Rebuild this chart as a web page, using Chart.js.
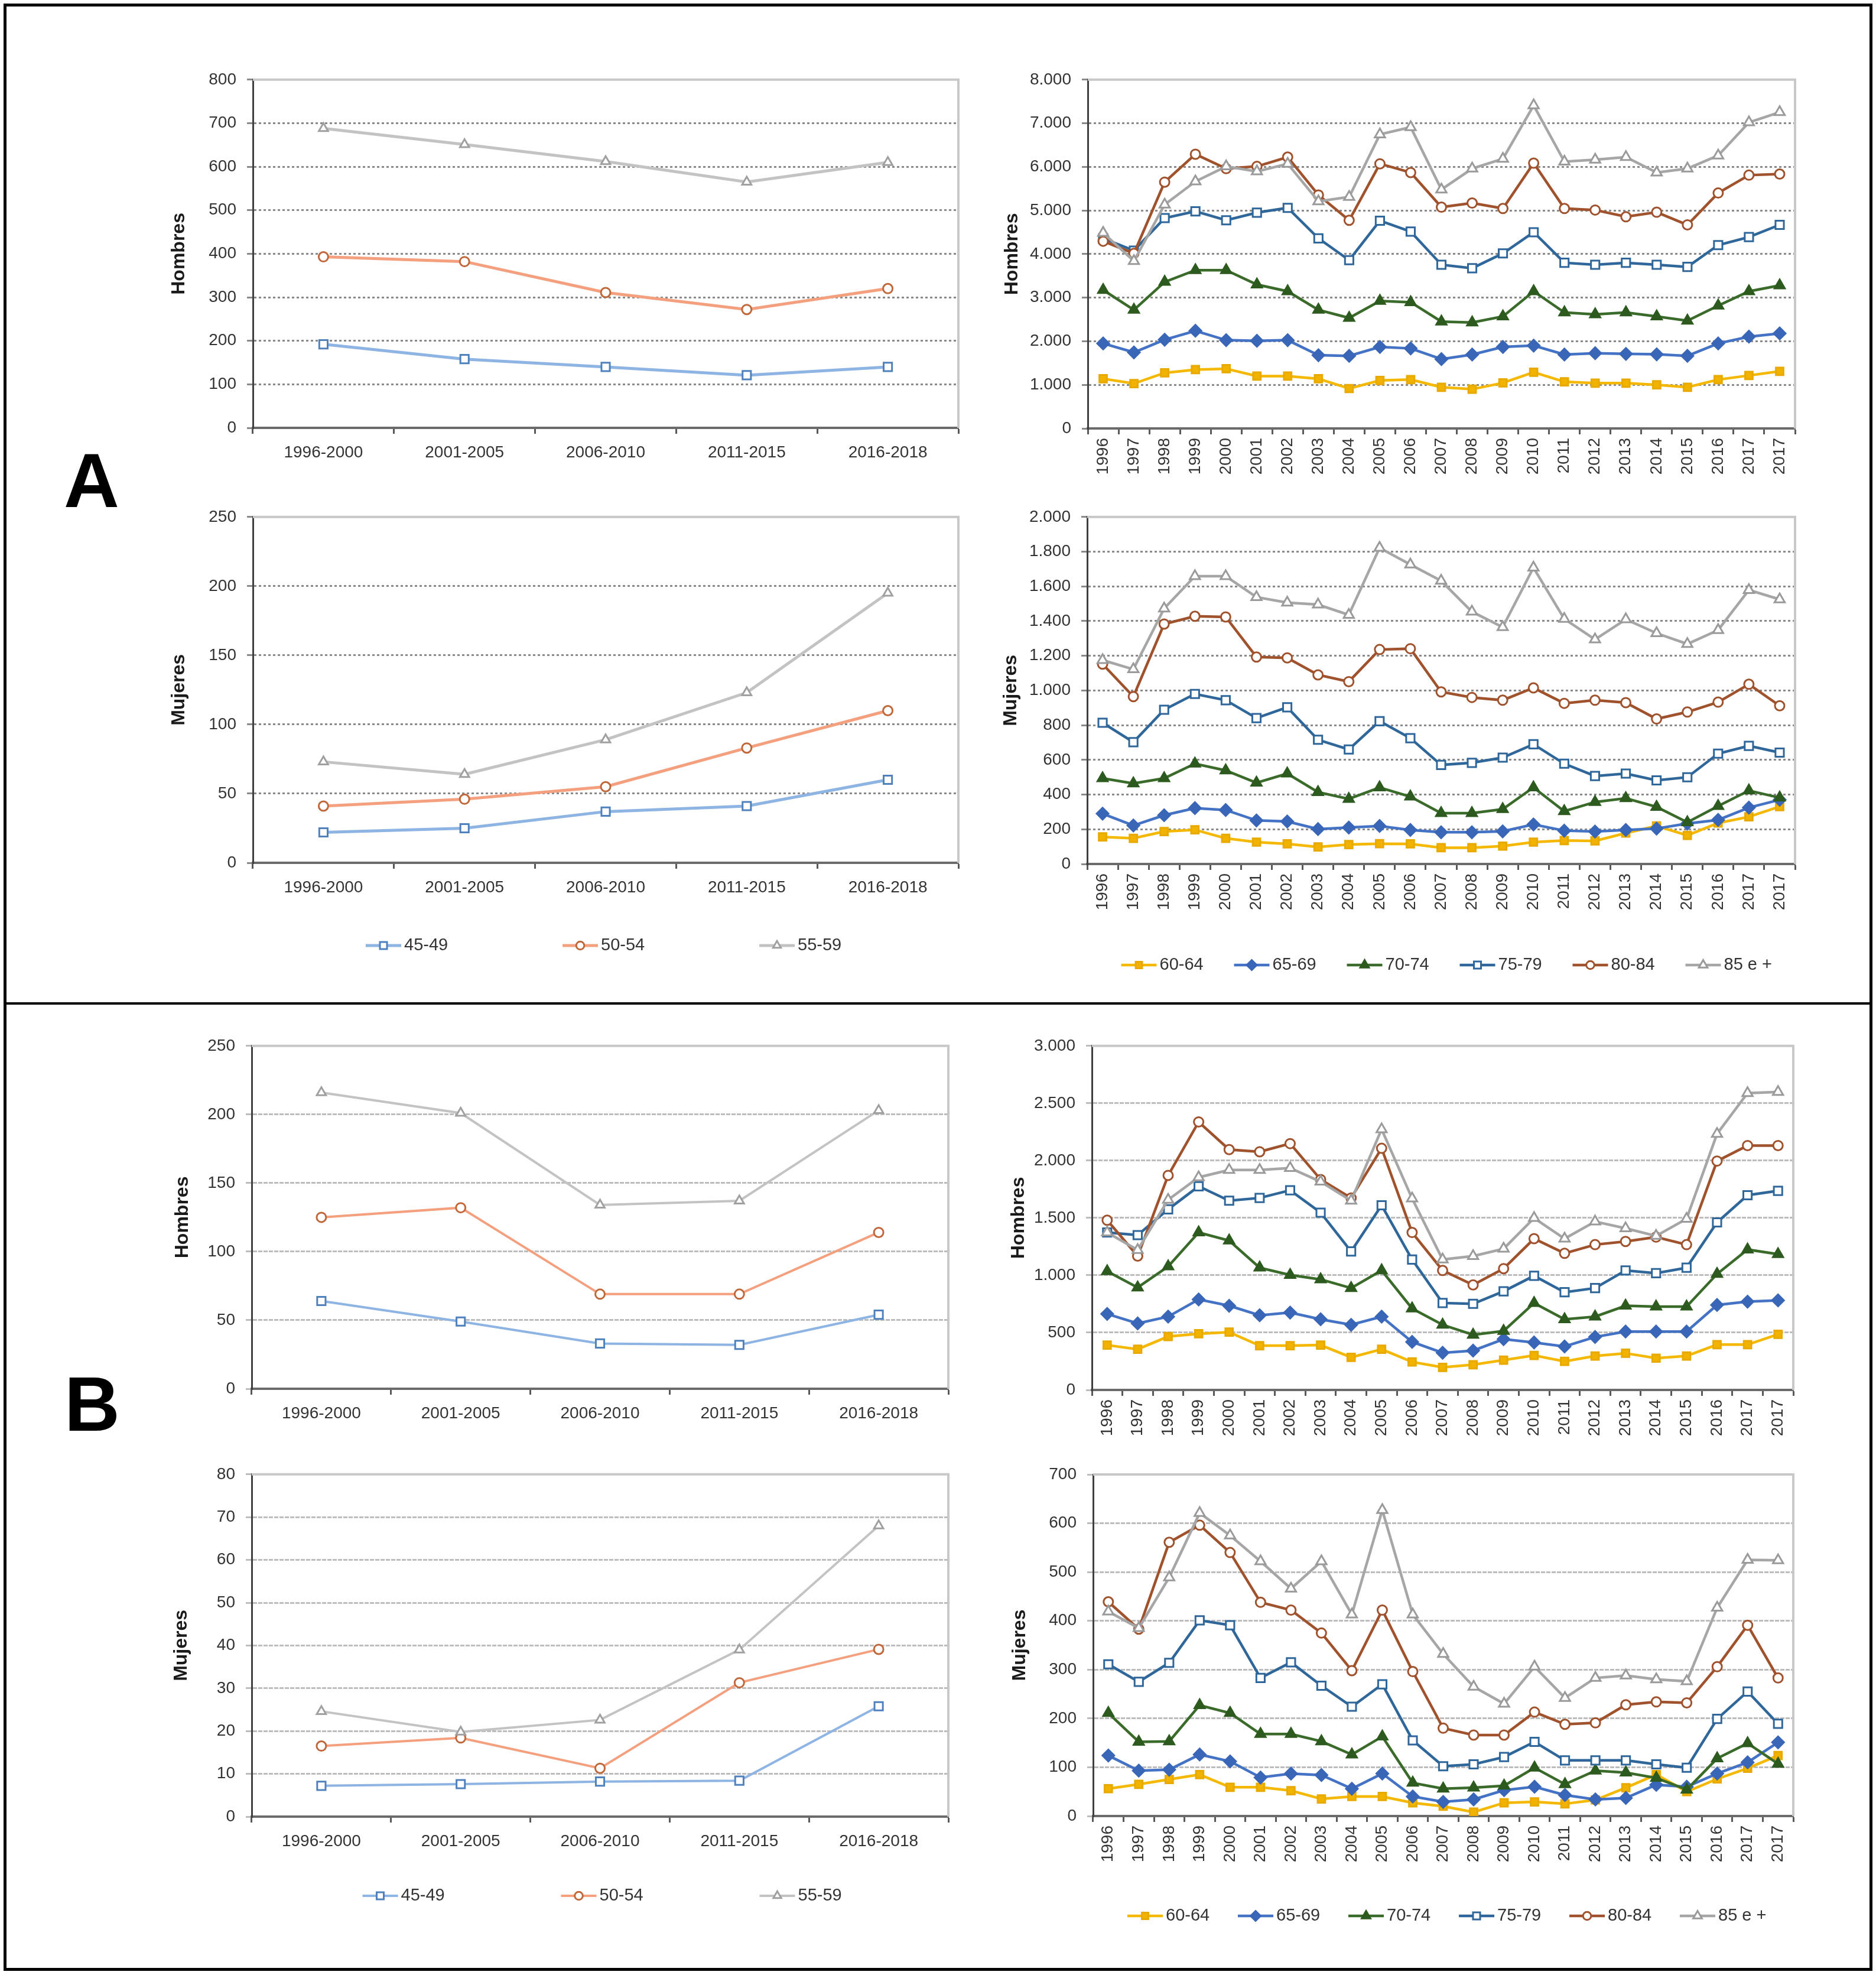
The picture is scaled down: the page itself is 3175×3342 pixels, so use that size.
<!DOCTYPE html>
<html lang="es">
<head>
<meta charset="utf-8">
<title>Hombres / Mujeres por grupos de edad</title>
<script src="https://cdn.jsdelivr.net/npm/chart.js@4.4.1/dist/chart.umd.min.js"></script>
<style>
  html, body { margin: 0; padding: 0; background: #fff; }
  body { width: 3175px; height: 3342px; position: relative; overflow: hidden;
         font-family: 'Liberation Sans', Arial, sans-serif; }
  .frame { position: absolute; left: 6px; top: 6px; width: 3163px; height: 3329px;
           border: 5px solid #000; box-sizing: border-box; }
  .divider { position: absolute; left: 6px; top: 1696px; width: 3163px; height: 4px; background: #000; }
  .panel-letter { position: absolute; font-weight: bold; font-size: 130px; line-height: 1;
                  transform: translate(-50%, -50%); color: #000; }
  .chart-box { position: absolute; }
</style>
</head>
<body>
<div class="frame"></div>
<div class="divider"></div>
<div class="panel-letter" style="left:155px;top:813px">A</div>
<div class="panel-letter" style="left:156px;top:2376px">B</div>

<script>
// ------------------------------------------------------------------
// Data
// ------------------------------------------------------------------
var periodos = ['1996-2000', '2001-2005', '2006-2010', '2011-2015', '2016-2018'];
var anos = ['1996', '1997', '1998', '1999', '2000', '2001', '2002', '2003', '2004', '2005', '2006',
            '2007', '2008', '2009', '2010', '2011', '2012', '2013', '2014', '2015', '2016', '2017', '2017'];
var gruposJovenes = ['45-49', '50-54', '55-59'];
var gruposMayores = ['60-64', '65-69', '70-74', '75-79', '80-84', '85 e +'];

// A - Hombres, 45-59
var aHom4549 = [192, 158, 140, 121, 140];
var aHom5054 = [393, 382, 311, 272, 320];
var aHom5559 = [688, 651, 612, 565, 610];
// A - Mujeres, 45-59
var aMuj4549 = [22, 25, 37, 41, 60];
var aMuj5054 = [41, 46, 55, 83, 110];
var aMuj5559 = [73, 64, 89, 123, 195];

// A - Hombres, 60+
var aHom6064 = [1140, 1030, 1275, 1350, 1370, 1200, 1200, 1140, 915, 1100, 1120, 945, 900, 1045, 1290, 1070, 1040, 1040, 1000, 945, 1120, 1215, 1310];
var aHom6569 = [1950, 1745, 2035, 2240, 2025, 2010, 2025, 1680, 1665, 1870, 1835, 1590, 1695, 1870, 1900, 1695, 1725, 1710, 1700, 1665, 1950, 2105, 2180];
var aHom7074 = [3175, 2720, 3360, 3630, 3630, 3300, 3145, 2720, 2535, 2925, 2895, 2450, 2430, 2570, 3145, 2660, 2615, 2660, 2570, 2470, 2815, 3145, 3280];
var aHom7579 = [4360, 4080, 4825, 4980, 4775, 4950, 5060, 4360, 3860, 4765, 4515, 3755, 3675, 4015, 4500, 3800, 3755, 3800, 3755, 3705, 4205, 4390, 4670];
var aHom8084 = [4295, 4015, 5650, 6290, 5960, 6010, 6225, 5355, 4775, 6070, 5870, 5075, 5170, 5045, 6085, 5045, 5010, 4855, 4960, 4670, 5400, 5810, 5835];
var aHom85 = [4485, 3840, 5135, 5665, 6010, 5895, 6070, 5210, 5310, 6745, 6910, 5480, 5960, 6185, 7410, 6120, 6165, 6225, 5870, 5960, 6260, 7020, 7255];
// A - Mujeres, 60+
var aMuj6064 = [156, 148, 187, 197, 148, 126, 116, 98, 112, 117, 116, 94, 94, 103, 126, 135, 133, 178, 219, 165, 236, 272, 331];
var aMuj6569 = [290, 222, 281, 322, 311, 251, 245, 201, 210, 219, 196, 183, 183, 188, 228, 192, 187, 196, 204, 233, 254, 325, 370];
var aMuj7074 = [494, 464, 494, 578, 539, 468, 521, 414, 375, 441, 388, 293, 293, 316, 441, 304, 357, 379, 329, 240, 334, 423, 382];
var aMuj7579 = [814, 702, 889, 980, 944, 841, 903, 716, 660, 823, 725, 571, 583, 613, 690, 578, 507, 521, 482, 500, 636, 681, 642];
var aMuj8084 = [1152, 965, 1383, 1428, 1424, 1193, 1188, 1090, 1051, 1236, 1241, 992, 960, 944, 1015, 926, 944, 930, 836, 876, 933, 1036, 912];
var aMuj85 = [1175, 1122, 1472, 1659, 1659, 1538, 1506, 1495, 1436, 1822, 1726, 1632, 1454, 1365, 1708, 1413, 1294, 1410, 1330, 1268, 1348, 1579, 1525];

// B - Hombres, 45-59
var bHom4549 = [64, 49, 33, 32, 54];
var bHom5054 = [125, 132, 69, 69, 114];
var bHom5559 = [216, 201, 134, 137, 203];
// B - Mujeres, 45-59
var bMuj4549 = [7.2, 7.6, 8.2, 8.4, 25.8];
var bMuj5054 = [16.5, 18.4, 11.3, 31.3, 39.1];
var bMuj5559 = [24.6, 19.8, 22.6, 39, 68];

// B - Hombres, 60+
var bHom6064 = [391, 355, 466, 490, 504, 386, 386, 391, 284, 355, 244, 197, 220, 260, 301, 249, 296, 320, 277, 296, 395, 395, 485];
var bHom6569 = [663, 580, 639, 789, 734, 651, 675, 616, 568, 639, 419, 324, 343, 443, 414, 379, 462, 509, 509, 509, 741, 770, 781];
var bHom7074 = [1035, 893, 1077, 1373, 1302, 1066, 1002, 964, 888, 1042, 710, 568, 481, 514, 758, 616, 639, 734, 727, 727, 1011, 1224, 1184];
var bHom7579 = [1373, 1350, 1575, 1776, 1650, 1674, 1741, 1546, 1208, 1610, 1137, 758, 751, 860, 995, 852, 888, 1042, 1018, 1066, 1461, 1698, 1736];
var bHom8084 = [1480, 1167, 1871, 2337, 2096, 2077, 2148, 1835, 1674, 2107, 1373, 1042, 916, 1058, 1319, 1191, 1267, 1295, 1333, 1267, 1996, 2131, 2131];
var bHom85 = [1373, 1220, 1658, 1854, 1918, 1918, 1935, 1816, 1650, 2273, 1669, 1137, 1167, 1231, 1499, 1319, 1468, 1409, 1343, 1492, 2233, 2588, 2598];
// B - Mujeres, 60+
var bMuj6064 = [56, 65, 75, 85, 59, 59, 52, 35, 40, 40, 27, 20, 8, 27, 29, 25, 33, 58, 85, 50, 76, 98, 124];
var bMuj6569 = [124, 93, 95, 126, 112, 79, 87, 84, 56, 87, 40, 29, 34, 53, 60, 43, 34, 37, 64, 60, 87, 110, 151];
var bMuj7074 = [211, 152, 153, 227, 211, 168, 168, 153, 126, 163, 68, 56, 58, 62, 99, 65, 93, 89, 78, 54, 118, 149, 107];
var bMuj7579 = [311, 275, 314, 401, 391, 283, 315, 267, 224, 270, 155, 102, 106, 121, 152, 114, 114, 114, 106, 99, 199, 255, 189];
var bMuj8084 = [439, 383, 561, 596, 540, 438, 422, 375, 298, 422, 296, 180, 166, 166, 213, 188, 191, 228, 234, 232, 306, 391, 283];
var bMuj85 = [419, 385, 489, 621, 575, 522, 466, 522, 413, 627, 413, 332, 265, 230, 306, 242, 283, 288, 280, 276, 427, 525, 524];

// y-axis ranges (max, step) per panel
var ejeAHomJ = [800, 100],  ejeAMujJ = [250, 50],  ejeAHomM = [8000, 1000], ejeAMujM = [2000, 200];
var ejeBHomJ = [250, 50],   ejeBMujJ = [80, 10],   ejeBHomM = [3000, 500],  ejeBMujM = [700, 100];

(function () {
    'use strict';

    var FONT = "'Liberation Sans', Arial, sans-serif";
    Chart.defaults.font.family = FONT;

    var youngStyles = [
        { line: '#8db4e2', mark: '#4f81bd', fill: '#ffffff', style: 'rect', r: 10 },
        { line: '#f4a07e', mark: '#c0683a', fill: '#ffffff', style: 'circle', r: 8 },
        { line: '#c3c3c3', mark: '#a0a0a0', fill: '#ffffff', style: 'triangle', r: 9 }
    ];
    var oldStyles = [
        { line: '#f5b800', mark: '#e8a900', fill: '#f2b200', style: 'rect', r: 9 },
        { line: '#4472c4', mark: '#3a66b8', fill: '#3a66b8', style: 'rectRot', r: 10 },
        { line: '#3b6b2a', mark: '#2d5a1e', fill: '#2d5a1e', style: 'triangle', r: 10 },
        { line: '#30679a', mark: '#30679a', fill: '#ffffff', style: 'rect', r: 10 },
        { line: '#a0522d', mark: '#a0522d', fill: '#ffffff', style: 'circle', r: 8 },
        { line: '#a6a6a6', mark: '#9a9a9a', fill: '#ffffff', style: 'triangle', r: 10 }
    ];

    function fmtMiles(v) { return String(v).replace(/\B(?=(\d{3})+(?!\d))/g, '.'); }

    // light grey top + right edge of the plot area
    var plotFrame = {
        id: 'plotFrame',
        beforeDatasetsDraw: function (chart, args, opts) {
            var a = chart.chartArea, ctx = chart.ctx;
            ctx.save();
            ctx.strokeStyle = opts.color;
            ctx.lineWidth = opts.width;
            ctx.beginPath();
            ctx.moveTo(a.left, a.top);
            ctx.lineTo(a.right, a.top);
            ctx.lineTo(a.right, a.bottom);
            ctx.stroke();
            ctx.restore();
        }
    };

    // Excel-like legend: short line with the marker in the middle, then the text
    var lineLegend = {
        id: 'lineLegend',
        afterDraw: function (chart, args, opts) {
            if (!opts.show) return;
            var ctx = chart.ctx, a = chart.chartArea;
            var sets = chart.data.datasets, n = sets.length;
            var mid = (a.left + a.right) / 2 + opts.shift;
            var y = a.bottom + opts.offsetY;
            ctx.save();
            ctx.font = opts.fontSize + 'px ' + FONT;
            ctx.textBaseline = 'middle';
            ctx.textAlign = 'left';
            sets.forEach(function (ds, i) {
                var mx = mid + (i - (n - 1) / 2) * opts.spacing;
                ctx.strokeStyle = ds.borderColor;
                ctx.lineWidth = ds.borderWidth;
                ctx.beginPath();
                ctx.moveTo(mx - opts.half, y);
                ctx.lineTo(mx + opts.half, y);
                ctx.stroke();
                ctx.fillStyle = ds.pointBackgroundColor;
                ctx.strokeStyle = ds.pointBorderColor;
                ctx.lineWidth = ds.pointBorderWidth;
                Chart.helpers.drawPoint(ctx, { pointStyle: ds.pointStyle, radius: ds.pointRadius * 0.85,
                    borderWidth: ds.pointBorderWidth, rotation: 0 }, mx, y);
                ctx.fillStyle = opts.color;
                ctx.fillText(ds.label, mx + opts.half + 5, y);
            });
            ctx.restore();
        }
    };

    function buildChart(spec) {
        var box = spec.box, plot = spec.plot;
        var div = document.createElement('div');
        div.className = 'chart-box';
        div.style.left = box.x + 'px';
        div.style.top = box.y + 'px';
        div.style.width = box.w + 'px';
        div.style.height = box.h + 'px';
        var canvas = document.createElement('canvas');
        div.appendChild(canvas);
        document.body.appendChild(div);

        var n = spec.series.length;
        var datasets = spec.series.map(function (data, i) {
            var st = spec.styles[i];
            return {
                label: spec.names[i],
                data: data,
                borderColor: st.line,
                borderWidth: spec.lineWidth,
                pointStyle: st.style,
                pointRadius: st.r,
                pointBorderWidth: 3,
                pointBorderColor: st.mark,
                pointBackgroundColor: st.fill,
                tension: 0,
                order: n - i          // later series on top, like Excel
            };
        });

        var xh = spec.xh;
        var padBottom = box.y + box.h - plot.b - xh;

        return new Chart(canvas, {
            type: 'line',
            data: { labels: spec.labels, datasets: datasets },
            plugins: [plotFrame, lineLegend],
            options: {
                responsive: true,
                maintainAspectRatio: false,
                animation: false,
                events: [],
                layout: { padding: { left: 0, top: plot.t - box.y, right: box.x + box.w - plot.r, bottom: padBottom } },
                plugins: {
                    legend: { display: false },
                    tooltip: { enabled: false },
                    plotFrame: { color: '#c8c8c8', width: 4 },
                    lineLegend: spec.legend || { show: false }
                },
                scales: {
                    x: {
                        offset: true,
                        afterFit: function (s) { s.height = xh; },
                        grid: { display: true, offset: true, drawOnChartArea: false, drawTicks: true,
                                tickLength: 10, tickColor: '#595959', tickWidth: 3 },
                        border: { display: true, color: '#6b6b6b', width: 4 },
                        ticks: {
                            autoSkip: false,
                            minRotation: spec.rotate ? 90 : 0,
                            maxRotation: spec.rotate ? 90 : 0,
                            padding: spec.rotate ? 6 : 15,
                            color: '#333',
                            font: { size: 28 }
                        }
                    },
                    y: {
                        min: 0,
                        max: spec.axis[0],
                        afterFit: function (s) { s.width = plot.l - box.x; },
                        grid: { color: spec.gridColor, lineWidth: 3, drawTicks: true, tickLength: 10,
                                tickColor: spec.gridColor, tickWidth: 3 },
                        border: { display: true, color: '#404040', width: 3, dash: spec.gridDash },
                        ticks: {
                            stepSize: spec.axis[1],
                            padding: 18,
                            color: '#333',
                            font: { size: 28 },
                            callback: function (v) { return fmtMiles(v); }
                        },
                        title: {
                            display: true,
                            text: spec.title,
                            color: '#1a1a1a',
                            font: { size: 32, weight: 'bold' },
                            padding: { top: spec.titlePad, bottom: 0 }
                        }
                    }
                }
            }
        });
    }

    var gridA = '#8a8a8a', dashA = [4, 4];
    var gridB = '#bdbdbd', dashB = [7, 2];

    // ---------------- Panel A ----------------
    buildChart({
        box: { x: 270, y: 100, w: 1380, h: 704 }, plot: { l: 428, t: 132, r: 1622, b: 724 }, xh: 80,
        labels: periodos, names: gruposJovenes, series: [aHom4549, aHom5054, aHom5559],
        styles: youngStyles, lineWidth: 5, axis: ejeAHomJ, title: 'Hombres', titlePad: 14,
        gridColor: gridA, gridDash: dashA
    });
    buildChart({
        box: { x: 1680, y: 100, w: 1390, h: 735 }, plot: { l: 1841, t: 132, r: 3038, b: 725 }, xh: 110,
        labels: anos, names: gruposMayores, series: [aHom6064, aHom6569, aHom7074, aHom7579, aHom8084, aHom85],
        styles: oldStyles, lineWidth: 4.5, axis: ejeAHomM, title: 'Hombres', titlePad: 14, rotate: true,
        gridColor: gridA, gridDash: dashA
    });
    buildChart({
        box: { x: 270, y: 840, w: 1380, h: 830 }, plot: { l: 428, t: 871, r: 1622, b: 1460 }, xh: 80,
        labels: periodos, names: gruposJovenes, series: [aMuj4549, aMuj5054, aMuj5559],
        styles: youngStyles, lineWidth: 5, axis: ejeAMujJ, title: 'Mujeres', titlePad: 14,
        gridColor: gridA, gridDash: dashA,
        legend: { show: true, offsetY: 140, spacing: 333, shift: -43, half: 30, fontSize: 29, color: '#333' }
    });
    buildChart({
        box: { x: 1680, y: 840, w: 1390, h: 840 }, plot: { l: 1840, t: 870, r: 3038, b: 1462 }, xh: 110,
        labels: anos, names: gruposMayores, series: [aMuj6064, aMuj6569, aMuj7074, aMuj7579, aMuj8084, aMuj85],
        styles: oldStyles, lineWidth: 4.5, axis: ejeAMujM, title: 'Mujeres', titlePad: 12, rotate: true,
        gridColor: gridA, gridDash: dashA,
        legend: { show: true, offsetY: 171, spacing: 191, shift: -34, half: 30, fontSize: 29, color: '#333' }
    });

    // ---------------- Panel B ----------------
    buildChart({
        box: { x: 270, y: 1735, w: 1370, h: 705 }, plot: { l: 426, t: 1766, r: 1605, b: 2350 }, xh: 80,
        labels: periodos, names: gruposJovenes, series: [bHom4549, bHom5054, bHom5559],
        styles: youngStyles, lineWidth: 4, axis: ejeBHomJ, title: 'Hombres', titlePad: 20,
        gridColor: gridB, gridDash: dashB
    });
    buildChart({
        box: { x: 1680, y: 1735, w: 1390, h: 725 }, plot: { l: 1848, t: 1767, r: 3035, b: 2352 }, xh: 100,
        labels: anos, names: gruposMayores, series: [bHom6064, bHom6569, bHom7074, bHom7579, bHom8084, bHom85],
        styles: oldStyles, lineWidth: 4.5, axis: ejeBHomM, title: 'Hombres', titlePad: 25, rotate: true,
        gridColor: gridB, gridDash: dashB
    });
    buildChart({
        box: { x: 270, y: 2460, w: 1370, h: 800 }, plot: { l: 426, t: 2493, r: 1605, b: 3074 }, xh: 80,
        labels: periodos, names: gruposJovenes, series: [bMuj4549, bMuj5054, bMuj5559],
        styles: youngStyles, lineWidth: 4, axis: ejeBMujJ, title: 'Mujeres', titlePad: 18,
        gridColor: gridB, gridDash: dashB,
        legend: { show: true, offsetY: 134, spacing: 336, shift: -36, half: 30, fontSize: 29, color: '#333' }
    });
    buildChart({
        box: { x: 1680, y: 2460, w: 1390, h: 830 }, plot: { l: 1850, t: 2495, r: 3035, b: 3073 }, xh: 100,
        labels: anos, names: gruposMayores, series: [bMuj6064, bMuj6569, bMuj7074, bMuj7579, bMuj8084, bMuj85],
        styles: oldStyles, lineWidth: 4.5, axis: ejeBMujM, title: 'Mujeres', titlePad: 27, rotate: true,
        gridColor: gridB, gridDash: dashB,
        legend: { show: true, offsetY: 169, spacing: 187, shift: -37, half: 30, fontSize: 29, color: '#333' }
    });
})();
</script>
</body>
</html>
